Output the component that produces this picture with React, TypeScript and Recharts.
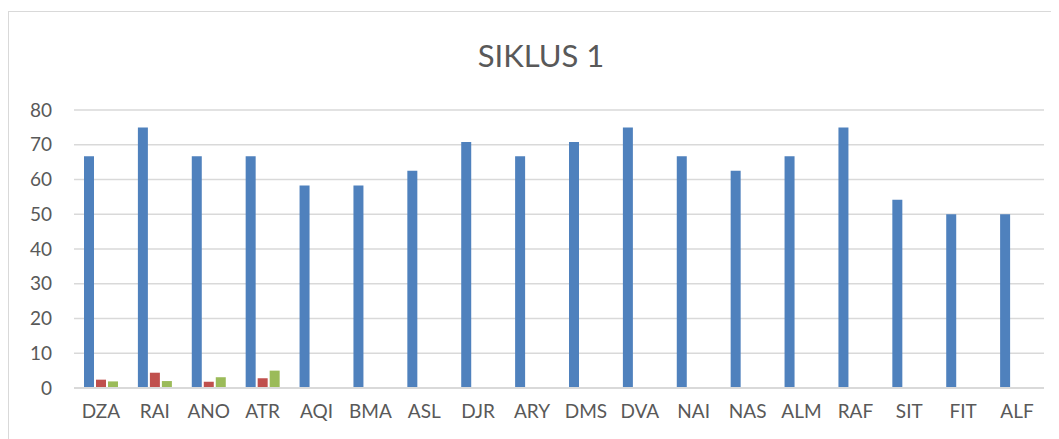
import React from "react";
import { BarChart, Bar, XAxis, YAxis, CartesianGrid } from "recharts";

const students = ["DZA", "RAI", "ANO", "ATR", "AQI", "BMA", "ASL", "DJR", "ARY", "DMS", "DVA", "NAI", "NAS", "ALM", "RAF", "SIT", "FIT", "ALF"];
const seriesA = [66.7, 75, 66.7, 66.7, 58.3, 58.3, 62.5, 70.8, 66.7, 70.8, 75, 66.7, 62.5, 66.7, 75, 54.2, 50, 50];
const seriesB = [2.4, 4.4, 1.8, 2.8, 0, 0, 0, 0, 0, 0, 0, 0, 0, 0, 0, 0, 0, 0];
const seriesC = [1.9, 2, 3.1, 5, 0, 0, 0, 0, 0, 0, 0, 0, 0, 0, 0, 0, 0, 0];
const yTicks = [0, 10, 20, 30, 40, 50, 60, 70, 80];

const data = students.map((name, i) => ({ name, a: seriesA[i], b: seriesB[i], c: seriesC[i] }));

const font = "Lato, 'Open Sans', sans-serif";
const tickStyle = { fill: "#595959", fontSize: 19, fontFamily: font };

export default function App() {
  return (
    <div
      style={{
        position: "relative",
        marginTop: 3,
        width: 1060,
        height: 440,
        border: "1px solid #d9d9d9",
        boxSizing: "border-box",
        background: "#fff",
      }}
    >
      <div
        style={{
          position: "absolute",
          top: 24,
          left: 0,
          width: 1064,
          textAlign: "center",
          fontFamily: font,
          fontSize: 31,
          color: "#595959",
        }}
      >
        SIKLUS 1
      </div>
      <BarChart
        width={1058}
        height={438}
        data={data}
        margin={{ top: 98, right: 23, left: 0, bottom: 32 }}
        barSize={10}
        barGap={2}
      >
        <CartesianGrid vertical={false} stroke="#d9d9d9" strokeWidth={1.3} />
        <XAxis
          dataKey="name"
          tickLine={false}
          axisLine={{ stroke: "#d9d9d9", strokeWidth: 2 }}
          tickSize={0}
          tickMargin={17}
          tick={tickStyle}
          interval={0}
        />
        <YAxis
          width={65}
          domain={[0, 80]}
          ticks={yTicks}
          tickLine={false}
          axisLine={false}
          tickSize={0}
          tickMargin={22}
          tick={tickStyle}
        />
        <Bar dataKey="a" fill="#4f81bd" isAnimationActive={false} />
        <Bar dataKey="b" fill="#c0504d" isAnimationActive={false} />
        <Bar dataKey="c" fill="#9bbb59" isAnimationActive={false} />
      </BarChart>
    </div>
  );
}
